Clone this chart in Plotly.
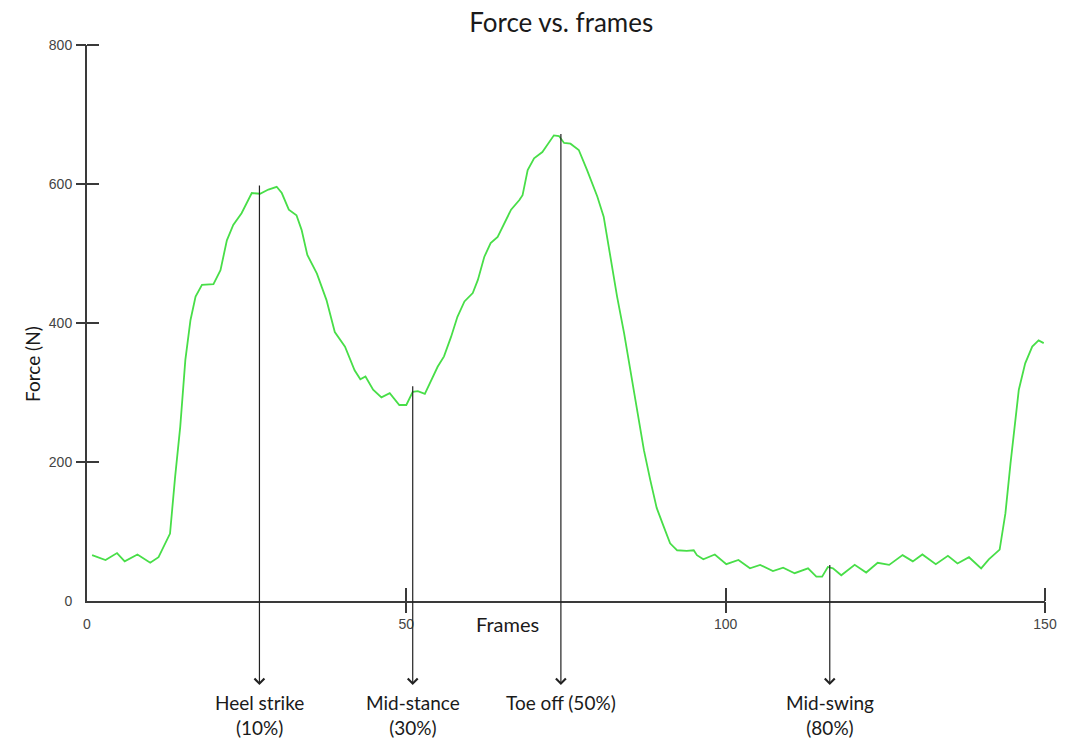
import plotly.graph_objects as go

# ---- data ----
frames = [0.8, 2.9, 4.7, 5.9, 7.9, 9.9, 11.2, 13.0, 13.8, 14.6, 15.4, 16.2, 17.0, 18.0,
          19.8, 20.9, 21.9, 22.9, 24.2, 25.8, 27.1, 28.4, 29.7, 30.5, 31.6, 32.8, 33.6,
          34.5, 36.0, 37.5, 38.8, 40.4, 41.9, 42.8, 43.6, 44.8, 46.1, 47.4, 48.9, 50.0,
          51.0, 51.8, 52.9, 53.9, 54.9, 55.9, 57.0, 58.0, 59.1, 60.4, 61.2, 62.2, 63.2,
          64.3, 65.3, 66.4, 67.7, 68.2, 69.0, 70.0, 71.3, 72.3, 73.1, 73.9, 74.7, 75.7,
          77.0, 78.3, 79.9, 80.9, 82.0, 83.0, 84.1, 85.1, 86.1, 87.2, 88.2, 89.2, 90.3,
          91.3, 92.4, 93.9, 95.0, 95.5, 96.5, 98.3, 100.1, 102.0, 103.8, 105.4, 107.4,
          109.0, 110.8, 112.9, 114.2, 115.1, 116.0, 116.8, 118.1, 120.2, 122.0, 123.8,
          125.6, 127.7, 129.3, 130.8, 132.9, 134.8, 136.3, 138.1, 140.0, 141.2, 142.9,
          143.8, 144.6, 145.4, 145.9, 146.9, 148.0, 149.0, 149.8]
force = [66, 59, 69, 57, 67, 55, 63, 97, 179, 251, 347, 404, 438, 455,
         456, 476, 519, 541, 558, 587, 586, 592, 596, 587, 563, 555, 534,
         498, 471, 433, 387, 366, 332, 319, 323, 304, 293, 299, 282, 282,
         301, 302, 298, 318, 337, 352, 380, 409, 431, 443, 462, 495, 515,
         524, 543, 563, 577, 584, 620, 637, 646, 659, 670, 669, 659, 658,
         649, 620, 582, 553, 491, 438, 385, 332, 275, 217, 174, 134, 107,
         83, 73, 72, 73, 66, 60, 67, 53, 59, 47, 52, 43,
         48, 40, 47, 35, 35, 49, 47, 37, 52, 41, 55,
         52, 66, 57, 67, 53, 65, 54, 63, 47, 60, 74,
         126, 198, 260, 304, 342, 366, 375, 371]

x_tick_vals = [0, 50, 100, 150]
y_tick_vals = [0, 200, 400, 600, 800]

event_frames = [27.0, 51.0, 74.2, 116.3]
event_tops = [600, 311, 674, 54]
event_labels = ["Heel strike<br>(10%)", "Mid-stance<br>(30%)", "Toe off (50%)", "Mid-swing<br>(80%)"]
arrow_tip = -121          # force units, below the x axis
label_top_paper = -0.158  # paper units, where event labels start

TXT_FONT = "Lato"
TICK_FONT = "Liberation Sans"
AXIS_COLOR = "#3a3a3a"

fig = go.Figure()
fig.add_trace(go.Scatter(x=frames, y=force, mode="lines",
                         line=dict(color="#48de48", width=1.8),
                         hoverinfo="skip", showlegend=False))

# invisible helper trace so the overlay axes (tick marks) get drawn
fig.add_trace(go.Scatter(x=[None], y=[None], xaxis="x2", yaxis="y2",
                         mode="lines", showlegend=False, hoverinfo="skip"))

annotations = []
for f, top, lab in zip(event_frames, event_tops, event_labels):
    annotations.append(dict(x=f, y=arrow_tip, xref="x", yref="y",
                            ax=f, ay=top, axref="x", ayref="y",
                            text="", showarrow=True, arrowhead=4, arrowsize=1.6,
                            arrowwidth=1.2, arrowcolor="#222222", standoff=0))
    annotations.append(dict(x=f, y=label_top_paper, xref="x", yref="paper",
                            text=lab, showarrow=False, yanchor="top",
                            font=dict(family=TXT_FONT, size=19, color="#1a1a1a")))

annotations.append(dict(x=-0.0717, y=0.426, xref="paper", yref="paper",
                        text="Force (N)", textangle=-90, showarrow=False,
                        font=dict(family=TXT_FONT, size=19, color="#1a1a1a")))
annotations.append(dict(x=0.4387, y=-0.0665, xref="paper", yref="paper",
                        text="Frames", showarrow=False,
                        font=dict(family=TXT_FONT, size=20, color="#1a1a1a")))

fig.update_layout(
    width=1069, height=742,
    margin=dict(l=87, r=20, t=45, b=141),
    paper_bgcolor="white", plot_bgcolor="white",
    title=dict(text="Force vs. frames", x=0.525, y=0.969, xanchor="center", yanchor="middle",
               font=dict(family=TXT_FONT, size=26, color="#1a1a1a")),
    xaxis=dict(range=[0, 150], showgrid=False, zeroline=False,
               showline=True, linecolor=AXIS_COLOR, linewidth=2,
               tickmode="array", tickvals=x_tick_vals, ticks="outside", ticklen=9,
               tickcolor="rgba(0,0,0,0)",
               tickfont=dict(family=TICK_FONT, size=14, color="#444444")),
    yaxis=dict(range=[0, 800], showgrid=False, zeroline=False,
               showline=True, linecolor=AXIS_COLOR, linewidth=2,
               tickmode="array", tickvals=y_tick_vals, ticks="outside", ticklen=10,
               tickcolor="rgba(0,0,0,0)",
               tickfont=dict(family=TICK_FONT, size=14, color="#444444")),
    xaxis2=dict(range=[0, 150], overlaying="x", anchor="y2", side="bottom",
                showgrid=False, zeroline=False, showline=False, showticklabels=False,
                tickmode="array", tickvals=x_tick_vals[1:], ticks="outside", ticklen=11,
                tickcolor=AXIS_COLOR, tickwidth=1.5,
                minor=dict(tickmode="array", tickvals=x_tick_vals[1:], ticks="inside",
                           ticklen=13, tickcolor=AXIS_COLOR, tickwidth=1.5)),
    yaxis2=dict(range=[0, 800], overlaying="y", anchor="x2", side="left",
                showgrid=False, zeroline=False, showline=False, showticklabels=False,
                tickmode="array", tickvals=y_tick_vals[1:], ticks="outside", ticklen=10,
                tickcolor=AXIS_COLOR, tickwidth=1.5,
                minor=dict(tickmode="array", tickvals=y_tick_vals[1:], ticks="inside",
                           ticklen=12, tickcolor=AXIS_COLOR, tickwidth=1.5)),
    annotations=annotations,
)

fig.write_html("out.html")
